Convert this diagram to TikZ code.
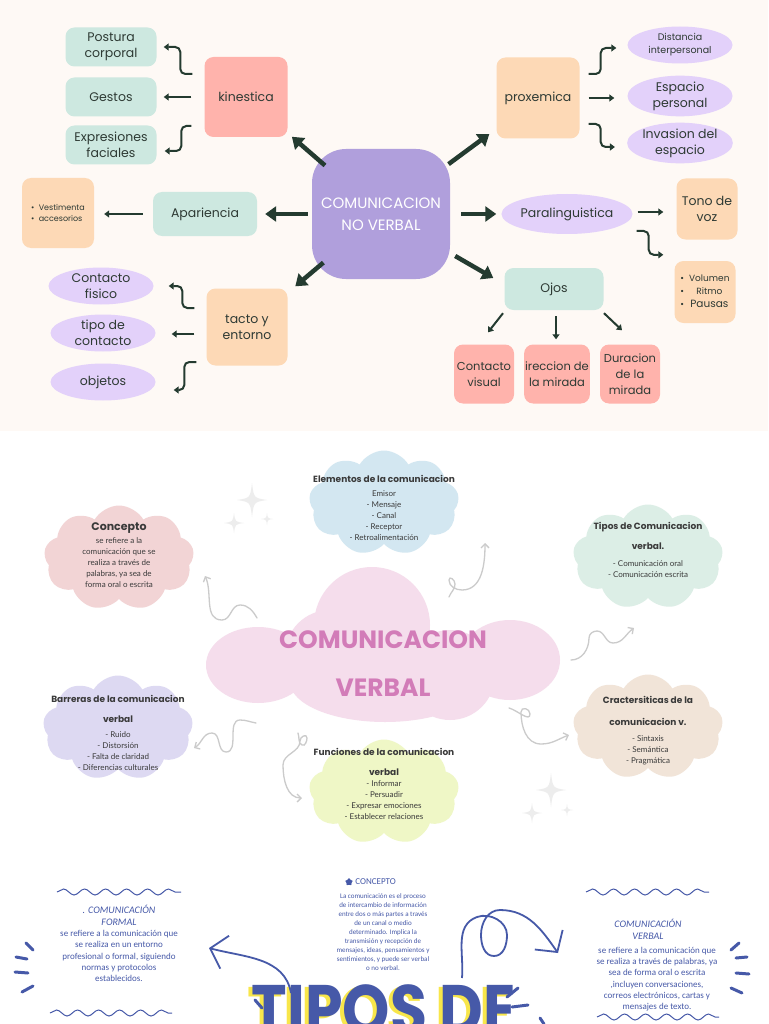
\documentclass[tikz,border=0pt]{standalone}
\usepackage{fontspec}
\setmainfont{Poppins}
\newfontfamily\notefont{Lato}
\newfontfamily\flyerfont{Carlito}
\usetikzlibrary{arrows.meta, positioning, calc, shapes.symbols, shapes.geometric, decorations.pathmorphing}

\definecolor{cream}{HTML}{FEF9F5}
\definecolor{ink}{HTML}{2E3A34}
\definecolor{arrowgreen}{HTML}{243B30}
\definecolor{mint}{HTML}{CDE8E0}
\definecolor{salmon}{HTML}{FFB3AC}
\definecolor{peach}{HTML}{FDD9B6}
\definecolor{lilac}{HTML}{E3D1FA}
\definecolor{violet}{HTML}{B09FDC}
\definecolor{cloudrose}{HTML}{F2D4D5}
\definecolor{cloudblue}{HTML}{D3E7F1}
\definecolor{cloudmint}{HTML}{DCEEE6}
\definecolor{cloudlilac}{HTML}{DDD9F2}
\definecolor{cloudsand}{HTML}{F1E4D8}
\definecolor{cloudlime}{HTML}{EFF7C6}
\definecolor{cloudpink}{HTML}{F5DDEC}
\definecolor{berry}{HTML}{D27CB8}
\definecolor{squig}{HTML}{CBCBCB}
\definecolor{spark}{HTML}{EDEDED}
\definecolor{graytext}{HTML}{3A3A3A}
\definecolor{inkblue}{HTML}{4659A8}
\definecolor{zest}{HTML}{F8E64A}

\newcommand\cloudhead[1]{{\rmfamily\bfseries\fontsize{9}{11}\selectfont #1}}

\begin{document}
\begin{tikzpicture}[
    x=1pt, y=1pt,
    font=\fontsize{12.5}{16}\selectfont,
    box/.style={rounded corners=9pt, align=center, text=ink, inner sep=1pt},
    tealbox/.style={box, fill=mint, minimum width=91pt, minimum height=39pt},
    pinkbox/.style={box, fill=salmon},
    rosebox/.style={box, fill=salmon, minimum width=60pt, minimum height=59pt, font=\fontsize{11.5}{16}\selectfont},
    peachbox/.style={box, fill=peach},
    oval/.style={ellipse, fill=lilac, align=center, text=ink, inner sep=0pt,
                 minimum width=105pt, minimum height=37pt},
    hub/.style={rounded corners=34pt, fill=violet, text=white, align=center,
                minimum width=138pt, minimum height=130pt, font=\fontsize{15}{22}\selectfont},
    bigflow/.style={-{Triangle[length=11pt,width=15pt]}, line width=4.5pt, arrowgreen},
    flow/.style={-{Triangle[length=5pt,width=7pt]}, line width=2pt, arrowgreen},
    hook/.style={flow, rounded corners=5pt},
    cloudbg/.style={cloud, cloud puffs=9, cloud puff arc=120, aspect=1.4, inner sep=0pt,
                    minimum width=150pt, minimum height=105pt},
    cloudtxt/.style={align=center, text=graytext, font=\notefont\fontsize{8}{11}\selectfont},
    squiggle/.style={-{Straight Barb[length=4pt,width=8pt]}, line width=1.3pt, squig, line cap=round},
    flyer/.style={align=center, text=inkblue, inner sep=0pt, font=\flyerfont\fontsize{9}{11.3}\selectfont},
    flyerhead/.style={flyer, font=\flyerfont\itshape\fontsize{10}{12}\selectfont},
    wave/.style={inkblue, line width=1pt, decorate,
                 decoration={snake, amplitude=3pt, segment length=21pt}},
    burst/.style={inkblue, line width=3pt, line cap=round},
    sweep/.style={-{Straight Barb[length=15pt,width=34pt]}, inkblue, line width=1.8pt},
    sparkle/.pic={\fill[spark] (0,1) .. controls (0.12,0.12) .. (1,0) .. controls (0.12,-0.12) .. (0,-1)
                  .. controls (-0.12,-0.12) .. (-1,0) .. controls (-0.12,0.12) .. cycle;},
]
    \useasboundingbox (0,0) rectangle (768,-1024);
    \fill[white] (0,0) rectangle (768,-1024);
    \fill[cream] (0,0) rectangle (768,-431);

    % --- No verbal: centre and first ring ---
    \node[hub] (cnv) at (381,-214) {COMUNICACION\\NO VERBAL};

    \node[pinkbox, minimum width=83pt, minimum height=80pt] (kin) at (246,-97) {kinestica};
    \node[tealbox, minimum width=104pt, minimum height=44pt] (apar) at (205,-214) {Apariencia};
    \node[peachbox, minimum width=81pt, minimum height=77pt] (tacto) at (247,-327) {tacto y\\entorno};
    \node[peachbox, minimum width=83pt, minimum height=81pt] (prox) at (538,-98) {proxemica};
    \node[oval, minimum width=114pt, minimum height=40pt] (para) at (567,-214) {Paralinguistica};
    \node[tealbox, minimum width=99pt, minimum height=42pt] (ojos) at (554,-289) {Ojos};

    % --- Leaves on the left ---
    \node[tealbox] (post) at (111,-47)  {Postura\\corporal};
    \node[tealbox] (gest) at (111,-97)  {Gestos};
    \node[tealbox] (expr) at (111,-145) {Expresiones\\faciales};
    \node[peachbox, minimum width=72pt, minimum height=70pt, align=left,
          font=\fontsize{8}{11}\selectfont] (vest) at (58,-213) {\textbullet\ \ Vestimenta\\\textbullet\ \ accesorios};
    \node[oval] (cfis) at (101,-286) {Contacto\\fisico};
    \node[oval] (tipo) at (103,-333) {tipo de\\contacto};
    \node[oval] (obj)  at (103,-382) {objetos};

    % --- Leaves on the right ---
    \node[oval, font=\fontsize{9.5}{13}\selectfont] (dist) at (680,-45) {Distancia\\interpersonal};
    \node[oval] (esp) at (680,-96)  {Espacio\\personal};
    \node[oval] (inv) at (680,-143) {Invasion del\\espacio};
    \node[peachbox, minimum width=61pt, minimum height=61pt] (tono) at (707,-209) {Tono de\\voz};
    \node[peachbox, minimum width=61pt, minimum height=62pt, font=\fontsize{9}{13}\selectfont] (vol) at (705,-292)
        {\begin{tabular}{@{}l@{\hspace{5pt}}c@{}}\textbullet & Volumen\\ \textbullet & Ritmo\\ \textbullet & {\fontsize{10.5}{13}\selectfont Pausas}\end{tabular}};
    \node[rosebox] (cvis) at (484,-374) {Contacto\\visual};
    \node[rosebox] (dir)  at (557,-374) {ireccion de\\la mirada};
    \node[rosebox] (dur)  at (630,-374) {Duracion\\de la\\mirada};

    % --- Thick arrows out of the centre ---
    \draw[bigflow] ($(cnv)!0.415!(kin)$) -- ($(cnv)!0.66!(kin)$);
    \draw[bigflow] ([xshift=-4pt]cnv.west) -- ([xshift=8pt]apar.east);
    \draw[bigflow] ($(cnv)!0.43!(tacto)$) -- ($(cnv)!0.64!(tacto)$);
    \draw[bigflow] ($(cnv)!0.43!(prox)$) -- ($(cnv)!0.69!(prox)$);
    \draw[bigflow] ([xshift=11pt]cnv.east) -- ([xshift=-5pt]para.west);
    \draw[bigflow] ([shift={(5,-42)}]cnv.east) -- ([shift={(-11,11)}]ojos.west);

    % --- Thin arrows to the leaves ---
    \draw[hook] ([shift={(-12,23)}]kin.west) -- ++(-12,0) |- ([xshift=7pt]post.east);
    \draw[flow] ([xshift=-13pt]kin.west) -- ([xshift=7pt]kin.west -| gest.east);
    \draw[hook] ([shift={(-13,-29)}]kin.west) -- ++(-10,0) |- ([shift={(8,-6)}]expr.east);
    \draw[flow] ([xshift=-10pt]apar.west) -- ([xshift=10pt]apar.west -| vest.east);
    \draw[hook] ([shift={(-12,19)}]tacto.west) -- ++(-12,0) |- ([xshift=15pt]cfis.east);
    \draw[flow] ([shift={(-12,-7)}]tacto.west) -- ([shift={(16,-7)}]tacto.west -| tipo.east);
    \draw[hook] ([shift={(-10,-35)}]tacto.west) -- ++(-12,0) |- ([shift={(18,-8)}]obj.east);
    \draw[hook] ([shift={(9,24)}]prox.east) -- ++(12,0) |- ([shift={(-11,-3)}]dist.west);
    \draw[flow] ([xshift=9pt]prox.east) -- ([xshift=-13pt]prox.east -| esp.west);
    \draw[hook] ([shift={(9,-26)}]prox.east) -- ++(12,0) |- ([shift={(-12,-4)}]inv.west);
    \draw[flow] ([shift={(5,2)}]para.east) -- ([shift={(-13,2)}]para.east -| tono.west);
    \draw[hook] ([shift={(4,-17)}]para.east) -- ++(12,0) |- ([shift={(-11,6)}]vol.north west);
    \draw[flow] ([shift={(-51,-3)}]ojos.south) -- ([shift={(4,12)}]cvis.north);
    \draw[flow] ([shift={(2,-6)}]ojos.south) -- ([shift={(2,5)}]ojos.south |- dir.north);
    \draw[flow] ([shift={(50,-3)}]ojos.south) -- ([shift={(-8,14)}]dur.north);

    % --- Verbal: clouds ---
    \fill[cloudpink] (372,-625) circle (58) (258,-665) ellipse (52 and 38) (510,-660) ellipse (50 and 40)
        (330,-655) circle (45) (450,-675) circle (45) (385,-682) ellipse (95 and 40);
    \node[font=\bfseries\fontsize{25}{48}\selectfont, text=berry, align=center] (vclT) at (383,-664) {COMUNICACION\\VERBAL};

    \node[cloudbg, fill=cloudrose]  (concepto)  at (119,-558) {};
    \node[cloudbg, fill=cloudblue]  (elementos) at (384,-503) {};
    \node[cloudbg, fill=cloudmint]  (tiposcl)   at (648,-557) {};
    \node[cloudbg, fill=cloudlilac] (barreras)  at (118,-728) {};
    \node[cloudbg, fill=cloudsand]  (caract)    at (648,-727) {};
    \node[cloudbg, fill=cloudlime]  (funciones) at (384,-792) {};

    \node[cloudtxt] (conceptoT) at (119,-555)
        {{\rmfamily\bfseries\fontsize{11}{13}\selectfont Concepto}\\[2pt]se refiere a la\\comunicación que se\\realiza a través de\\palabras, ya sea de\\forma oral o escrita};
    \node[cloudtxt] (elementosT) at (384,-508)
        {\cloudhead{Elementos de la comunicacion}\\[3pt]Emisor\\- Mensaje\\- Canal\\- Receptor\\- Retroalimentación};
    \node[cloudtxt] (tiposclT) at (648,-550)
        {\cloudhead{Tipos de Comunicacion}\\[9pt]\cloudhead{verbal.}\\[6pt]- Comunicación oral\\- Comunicación escrita};
    \node[cloudtxt] (barrerasT) at (118,-733)
        {\cloudhead{Barreras de la comunicacion}\\[9pt]\cloudhead{verbal}\\[4pt]- Ruido\\- Distorsión\\- Falta de claridad\\- Diferencias culturales};
    \node[cloudtxt] (caractT) at (648,-731)
        {\cloudhead{Cractersiticas de la}\\[11pt]\cloudhead{comunicacion v.}\\[5pt]- Sintaxis\\- Semántica\\- Pragmática};
    \node[cloudtxt] (funcionesT) at (384,-784)
        {\cloudhead{Funciones de la comunicacion}\\[9pt]\cloudhead{verbal}\\- Informar\\- Persuadir\\- Expresar emociones\\- Establecer relaciones};

    % --- Verbal: hand drawn arrows ---
    \draw[squiggle] ([shift={(-126,46)}]vclT.center) to[out=120,in=0] ++(-17,13) to[out=180,in=0] ++(-18,-15)
        to[out=180,in=-65] ([shift={(86,-18)}]concepto.center);
    \draw[squiggle] ([shift={(-127,-59)}]vclT.center) to[out=170,in=0] ++(-16,3) to[out=180,in=0] ++(-14,-32)
        to[out=180,in=0] ++(-14,19) to[out=180,in=30] ([shift={(76,-20)}]barreras.center);
    \draw[squiggle] ([shift={(-85,-69)}]vclT.center) to[out=-70,in=150] ++(4,-12) to[out=-30,in=-90] ++(5,7)
        to[out=90,in=90,looseness=1.6] ++(-7,-3) to[out=-90,in=90] ++(-17,-24) to[out=-90,in=180] ([shift={(-82,-6)}]funciones.center);
    \draw[squiggle] ([shift={(66,67)}]vclT.center) to[out=70,in=-90] ++(6,13) to[out=90,in=90,looseness=1.6] ++(-6,4)
        to[out=-90,in=180] ++(13,-10) to[out=0,in=-90] ([shift={(101,-40)}]elementos.center);
    \draw[squiggle] ([shift={(188,4)}]vclT.center) to[out=0,in=-90] ++(18,22) to[out=90,in=180] ++(8,7)
        to[out=0,in=180] ++(16,-12) to[out=0,in=-145] ([shift={(-14,-71)}]tiposcl.center);
    \draw[squiggle] ([shift={(126,-44)}]vclT.center) to[out=-15,in=-90] ++(21,-6) to[out=90,in=90,looseness=1.6] ++(-9,2)
        to[out=-90,in=180] ++(20,-32) to[out=0,in=-160] ([shift={(-79,-8)}]caract.center);

    \pic[xscale=15, yscale=17] at (252,-500) {sparkle};
    \pic[scale=10] at (234,-523) {sparkle};
    \pic[scale=6]  at (267,-519) {sparkle};
    \pic[xscale=15, yscale=17] at (551,-790) {sparkle};
    \pic[scale=10] at (532,-813) {sparkle};
    \pic[scale=6]  at (567,-810) {sparkle};

    % --- Tipos de comunicacion: flyer ---
    \node[font=\bfseries\fontsize{70}{70}\selectfont, text=zest, anchor=base] (tiposdeS) at (380,-1036) {\scalebox{0.86}[1]{TIPOS DE}};
    \node[font=\bfseries\fontsize{70}{70}\selectfont, text=inkblue, anchor=base] (tiposde) at (384,-1034) {\scalebox{0.86}[1]{TIPOS DE}};

    \node[flyerhead] (formalT) at (119,-915) {. COMUNICACIÓN\\FORMAL};
    \node[flyer] (formalTxt) at (119,-956)
        {se refiere a la comunicación que\\se realiza en un entorno\\profesional o formal, siguiendo\\normas y protocolos\\establecidos.};
    \node[star, star points=5, star point ratio=1.9, fill=inkblue, inner sep=0pt, minimum size=9pt, rounded corners=1pt] (concIcon) at (349,-882) {};
    \node[flyer, font=\flyerfont\fontsize{9}{11}\selectfont, right=3pt of concIcon] (concT) {CONCEPTO};
    \node[flyer, font=\flyerfont\fontsize{7}{9.05}\selectfont] (concTxt) at (383,-932)
        {La comunicación es el proceso\\de intercambio de información\\entre dos o más partes a través\\de un canal o medio\\determinado. Implica la\\transmisión y recepción de\\mensajes, ideas, pensamientos y\\sentimientos, y puede ser verbal\\o no verbal.};
    \node[flyerhead] (verbalT) at (648,-929) {COMUNICACIÓN\\VERBAL};
    \node[flyer] (verbalTxt) at (657,-979)
        {se refiere a la comunicación que\\se realiza a través de palabras, ya\\sea de forma oral o escrita\\,incluyen conversaciones,\\correos electrónicos, cartas y\\mensajes de texto.};

    \draw[wave] (57,-892) -- (181,-892);
    \draw[wave] (50,-1013) -- (172,-1013);
    \draw[wave] (586,-892) -- (709,-892);
    \draw[wave] (597,-1017) -- (719,-1017);

    \draw[sweep] ([shift={(-93,41)}]tiposde.base) to[out=100,in=-15] ([shift={(90,8)}]formalTxt.center);
    \draw[sweep] ([shift={(78,56)}]tiposde.base) to[out=85,in=200] ++(15,61) to[out=20,in=90] ++(30,-18)
        to[out=-90,in=0] ++(-13,-21) to[out=180,in=-90] ++(-13,21) to[out=90,in=180] ++(19,25)
        to[out=0,in=125] ([shift={(-99,26)}]verbalTxt.center);

    \draw[burst] (26,-943) -- (33,-950);
    \draw[burst] (16,-957) -- (27,-959);
    \draw[burst] (15,-972) -- (28,-973);
    \draw[burst] (22,-992) -- (33,-986);
    \draw[burst] (731,-950) -- (739,-943);
    \draw[burst] (736,-958) -- (747,-957);
    \draw[burst] (736,-973) -- (749,-974);
    \draw[burst] (731,-988) -- (742,-993);
    \draw[burst] (255,-1000) -- (262,-1008);
    \draw[burst] (507,-997) -- (518,-988);
    \draw[burst] (512,-1007) -- (528,-1005);
    \draw[burst] (540,-1018) -- (544,-1024);
\end{tikzpicture}
\end{document}
